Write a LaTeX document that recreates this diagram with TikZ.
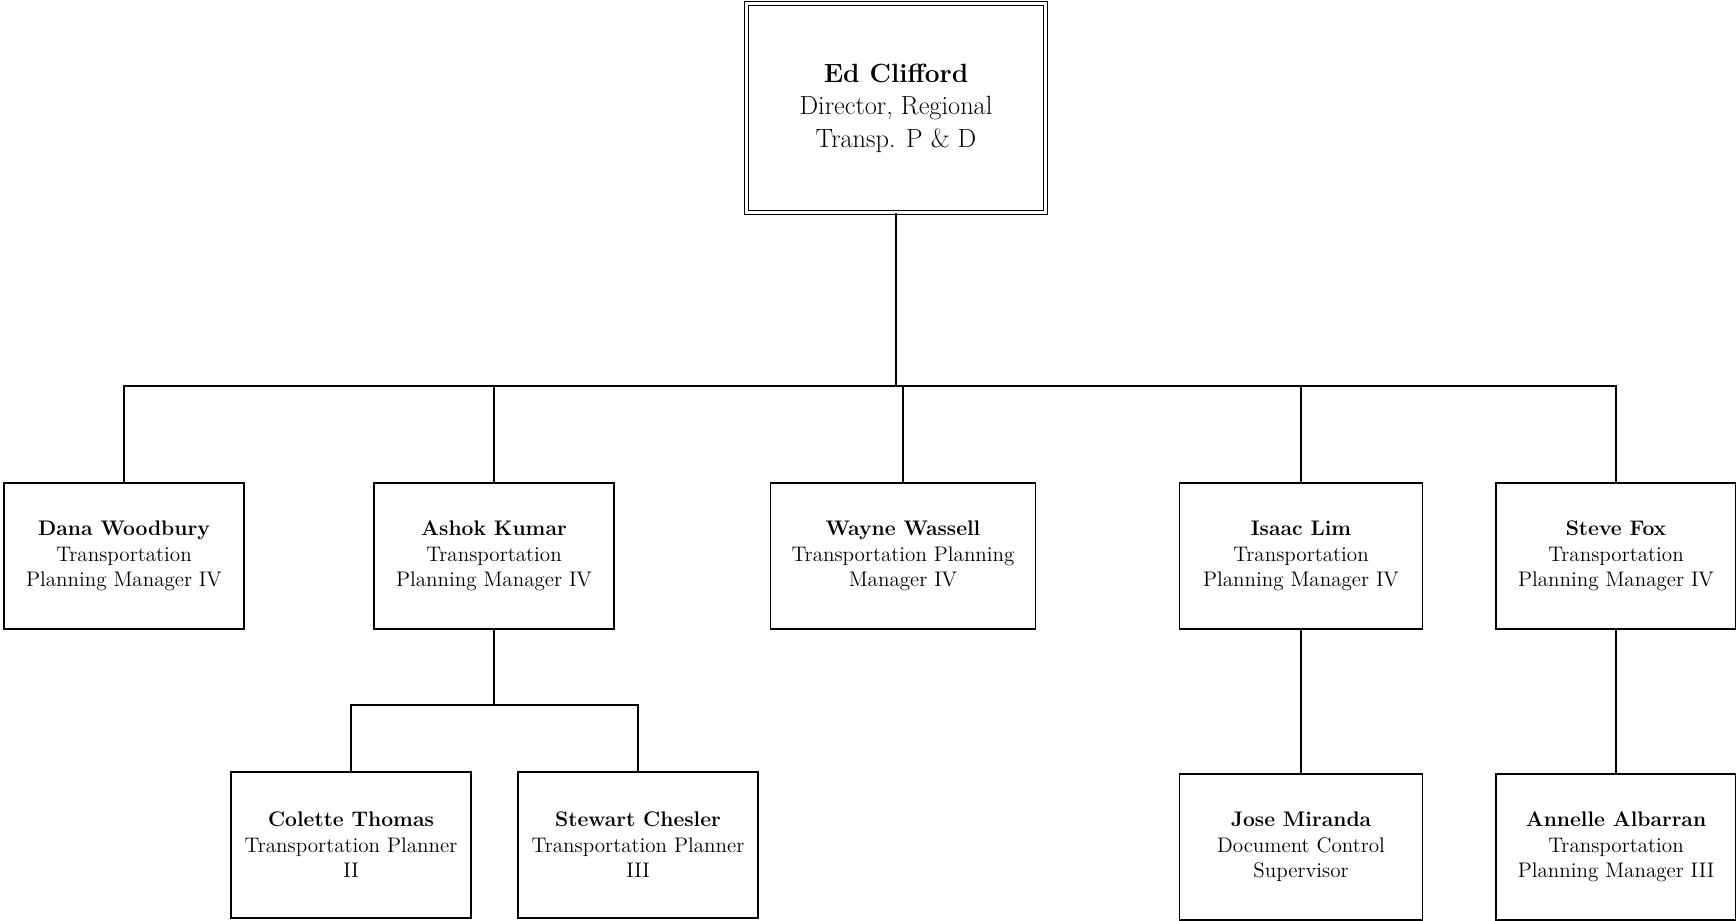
\documentclass[tikz,border=0pt]{standalone}
\usepackage{tikz}
\usetikzlibrary{positioning}

\begin{document}
\begin{tikzpicture}[
  x=0.02cm, y=-0.02cm,
  box/.style={draw, line width=0.9pt, minimum width=4.8cm, minimum height=2.92cm, align=center, inner sep=2pt, font=\fontsize{12}{14.5}\selectfont},
  topbox/.style={draw, double, line width=0.9pt, double distance=1.3pt, minimum width=5.98cm, minimum height=4.18cm, align=center, font=\fontsize{15}{18.5}\selectfont},
  link/.style={line width=0.9pt}
]
\useasboundingbox (0,0) rectangle (1736,920);
% director
\node[topbox] (ed) at (896,108) {\textbf{Ed Clifford}\\Director, Regional\\Transp. P \& D};
% managers
\node[box] (dana) at (124,556) {\textbf{Dana Woodbury}\\Transportation\\Planning Manager IV};
\node[box] (ashok) at (494,556) {\textbf{Ashok Kumar}\\Transportation\\Planning Manager IV};
\node[box, minimum width=5.3cm] (wayne) at (903,556) {\textbf{Wayne Wassell}\\Transportation Planning\\Manager IV};
\node[box, minimum width=4.86cm] (isaac) at (1301,556) {\textbf{Isaac Lim}\\Transportation\\Planning Manager IV};
\node[box] (steve) at (1616,556) {\textbf{Steve Fox}\\Transportation\\Planning Manager IV};
% staff
\node[box] (colette) at (351,845) {\textbf{Colette Thomas}\\Transportation Planner\\II};
\node[box] (stewart) at (638,845) {\textbf{Stewart Chesler}\\Transportation Planner\\III};
\node[box, minimum width=4.86cm] (jose) at (1301,847) {\textbf{Jose Miranda}\\Document Control\\Supervisor};
\node[box] (annelle) at (1616,847) {\textbf{Annelle Albarran}\\Transportation\\Planning Manager III};
% connectors
\draw[line width=1.3pt] (ed.south) -- ++(0,173) coordinate (bus);
\draw[link] (dana.north) |- (bus) -| (steve.north);
\draw[link] (ashok.north) -- (ashok.north |- bus);
\draw[link] (wayne.north) -- (wayne.north |- bus);
\draw[link] (isaac.north) -- (isaac.north |- bus);
\draw[link] (ashok.south) -- ++(0,75) coordinate (sub);
\draw[link] (colette.north) |- (sub) -| (stewart.north);
\draw[link] (isaac.south) -- (jose.north);
\draw[link] (steve.south) -- (annelle.north);
\end{tikzpicture}
\end{document}
